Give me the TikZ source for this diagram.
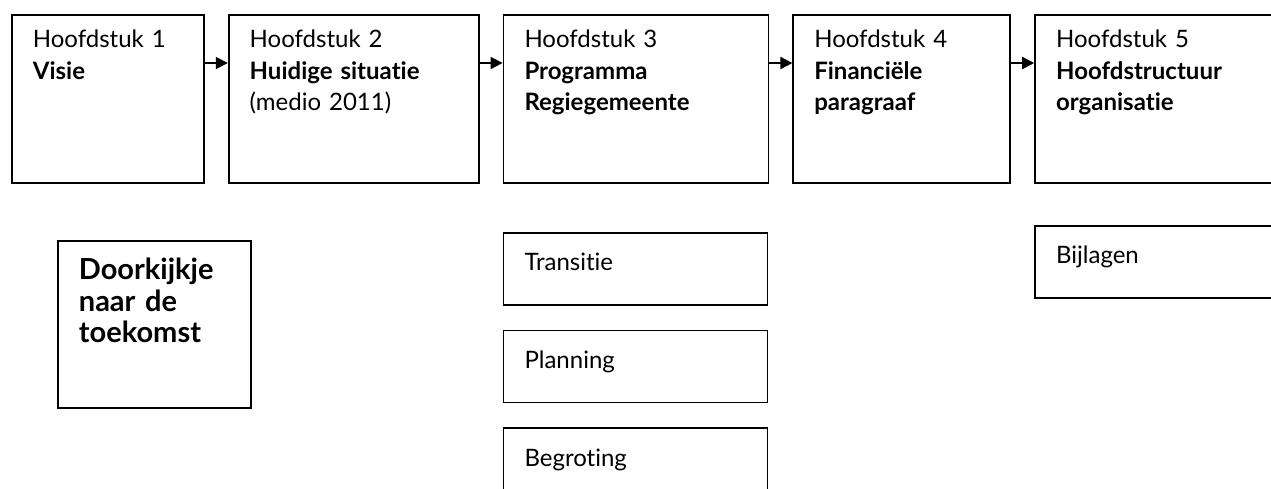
\documentclass[tikz,border=0pt]{standalone}
\usepackage{fontspec}
\setmainfont{Lato}[Ligatures=NoCommon]
\usetikzlibrary{arrows.meta,positioning}
\tikzset{
  box/.style={draw, line width=1.8pt, rectangle, align=left, inner xsep=21pt, inner ysep=0pt, font=\fontsize{24}{31.5}\selectfont},
  chap/.style={box, text height=33pt, text depth=135pt},
  sub/.style={box, text height=38pt, text depth=34pt},
  view/.style={box, text height=39pt, text depth=128pt, font=\fontsize{29}{31.5}\selectfont\bfseries},
  arrow/.style={-{Triangle[length=12pt,width=12pt]}, line width=1.8pt}
}

\begin{document}
\begin{tikzpicture}[x=1pt, y=-1pt, node distance=23pt]
    \useasboundingbox (0,0) rectangle (1271,488);
    \clip (0,0) rectangle (1271,488);

    % Hoofdstukken
    \node[chap, text width=150pt, anchor=north west] (ch1) at (11,14) {Hoofdstuk 1\\ \textbf{Visie}};
    \node[chap, text width=208pt, right=of ch1] (ch2) {Hoofdstuk 2\\ \textbf{Huidige situatie}\\ (medio 2011)};
    \node[chap, text width=223pt, right=of ch2] (ch3) {Hoofdstuk 3\\ \textbf{Programma}\\ \textbf{Regiegemeente}};
    \node[chap, text width=175pt, right=of ch3] (ch4) {Hoofdstuk 4\\ \textbf{Financiële}\\ \textbf{paragraaf}};
    \node[chap, text width=230pt, right=of ch4] (ch5) {Hoofdstuk 5\\ \textbf{Hoofdstructuur}\\ \textbf{organisatie}};

    % Arrows
    \foreach \a/\b in {ch1/ch2, ch2/ch3, ch3/ch4, ch4/ch5}
      \draw[arrow] ([yshift=-49pt]\a.north east) -- ([yshift=-49pt]\b.north west);

    % Onderdelen
    \node[view, text width=151pt, below=56pt of ch1.south west, anchor=north west, xshift=46pt] (future) {Doorkijkje\\ naar de\\ toekomst};
    \node[sub, text width=222pt, below=48pt of ch3.south west, anchor=north west] (trans) {Transitie};
    \node[sub, text width=222pt, below=24pt of trans] (plan) {Planning};
    \node[sub, text width=222pt, below=24pt of plan] (budget) {Begroting};
    \node[sub, text width=230pt, below=41pt of ch5.south west, anchor=north west] (annex) {Bijlagen};
\end{tikzpicture}
\end{document}
